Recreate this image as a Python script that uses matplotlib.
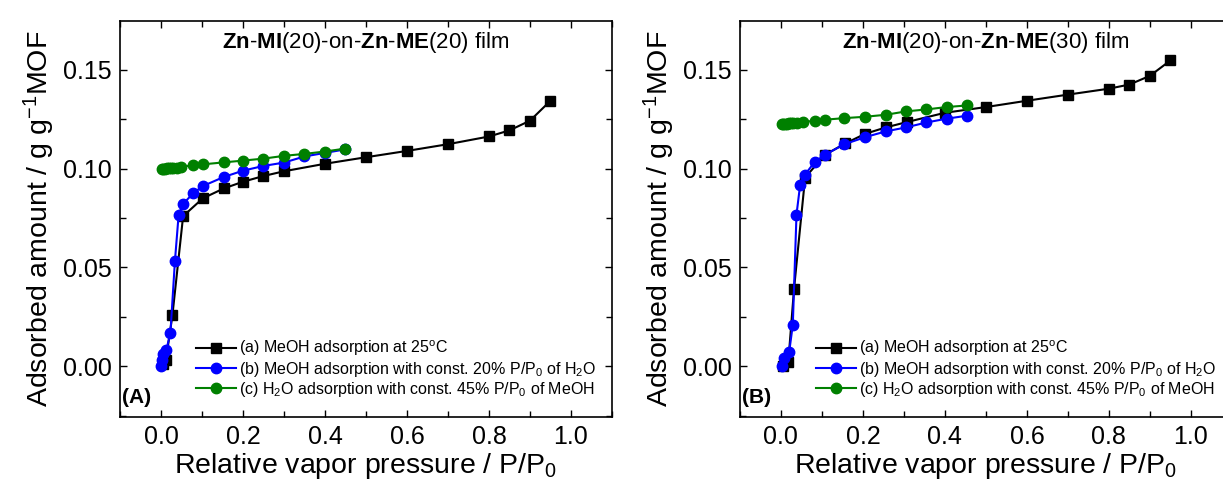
import matplotlib
matplotlib.use("Agg")
import matplotlib.pyplot as plt
from matplotlib.ticker import MultipleLocator

plt.rcParams['font.family'] = ['Liberation Sans', 'DejaVu Sans']
plt.rcParams['mathtext.fontset'] = 'custom'
plt.rcParams['mathtext.rm'] = 'Liberation Sans'
plt.rcParams['mathtext.it'] = 'Liberation Sans:italic'
plt.rcParams['mathtext.bf'] = 'Liberation Sans:bold'

# Panel A: Zn-MI(20)-on-Zn-ME(20)
a_meoh_x = [0.005, 0.012, 0.028, 0.054, 0.102, 0.153, 0.20, 0.25, 0.30, 0.40, 0.50, 0.60, 0.70, 0.80, 0.85, 0.90, 0.95]
a_meoh_y = [0.001, 0.003, 0.026, 0.076, 0.085, 0.090, 0.0934, 0.0963, 0.0987, 0.1025, 0.1058, 0.109, 0.1124, 0.1163, 0.1194, 0.1243, 0.1344]
a_mix_x = [0.001, 0.003, 0.005, 0.013, 0.023, 0.034, 0.043, 0.053, 0.078, 0.102, 0.153, 0.20, 0.25, 0.30, 0.35, 0.40, 0.45]
a_mix_y = [0.0, 0.003, 0.006, 0.0083, 0.0168, 0.0532, 0.0765, 0.0819, 0.0875, 0.0912, 0.0958, 0.099, 0.1014, 0.1031, 0.1062, 0.1080, 0.1098]
a_h2o_x = [0.002, 0.006, 0.010, 0.015, 0.020, 0.025, 0.030, 0.040, 0.050, 0.078, 0.102, 0.153, 0.20, 0.25, 0.30, 0.35, 0.40, 0.45]
a_h2o_y = [0.0999, 0.1000, 0.1001, 0.1002, 0.1003, 0.1004, 0.1005, 0.1006, 0.1008, 0.1019, 0.1022, 0.1032, 0.1041, 0.1051, 0.1065, 0.1075, 0.1087, 0.1102]

# Panel B: Zn-MI(20)-on-Zn-ME(30)
b_meoh_x = [0.005, 0.018, 0.032, 0.059, 0.107, 0.157, 0.206, 0.256, 0.307, 0.40, 0.50, 0.60, 0.70, 0.80, 0.85, 0.90, 0.95]
b_meoh_y = [0.0, 0.0022, 0.0392, 0.0955, 0.107, 0.1128, 0.1177, 0.1209, 0.1236, 0.1283, 0.1312, 0.1344, 0.1375, 0.1405, 0.1426, 0.147, 0.1548]
b_mix_x = [0.003, 0.008, 0.020, 0.029, 0.038, 0.047, 0.058, 0.082, 0.107, 0.155, 0.206, 0.256, 0.305, 0.355, 0.404, 0.453]
b_mix_y = [0.0, 0.0044, 0.007, 0.021, 0.0768, 0.092, 0.0968, 0.1033, 0.107, 0.1124, 0.116, 0.1189, 0.1209, 0.1234, 0.1253, 0.1268]
b_h2o_x = [0.002, 0.006, 0.010, 0.015, 0.020, 0.025, 0.030, 0.040, 0.054, 0.082, 0.107, 0.155, 0.206, 0.256, 0.305, 0.355, 0.404, 0.453]
b_h2o_y = [0.1225, 0.1226, 0.1227, 0.1228, 0.1229, 0.1230, 0.1231, 0.1233, 0.1236, 0.1243, 0.1248, 0.1256, 0.1263, 0.1273, 0.129, 0.130, 0.1312, 0.132]

labels = ["(a) MeOH adsorption at 25$^{\\mathrm{o}}$C",
          "(b) MeOH adsorption with const. 20% P/P$_0$ of H$_2$O",
          "(c) H$_2$O adsorption with const. 45% P/P$_0$ of MeOH"]

panels = [
    ("A", "20", 0.0981, (a_meoh_x, a_meoh_y), (a_mix_x, a_mix_y), (a_h2o_x, a_h2o_y)),
    ("B", "30", 0.6050, (b_meoh_x, b_meoh_y), (b_mix_x, b_mix_y), (b_h2o_x, b_h2o_y)),
]

fig = plt.figure(figsize=(12.23, 4.91), dpi=100)

for tag, me, left, meoh, mix, h2o in panels:
    ax = fig.add_axes([left, 0.151, 0.4023, 0.806])
    l1, = ax.plot(meoh[0], meoh[1], "-s", color="black", lw=1.5, ms=6.5)
    l2, = ax.plot(mix[0], mix[1], "-o", color="#0000ff", lw=1.5, ms=7.5)
    l3, = ax.plot(h2o[0], h2o[1], "-o", color="#008000", lw=1.5, ms=7.5)

    ax.set_xlim(-0.1, 1.1)
    ax.set_ylim(-0.0256, 0.1747)
    ax.xaxis.set_major_locator(MultipleLocator(0.2))
    ax.xaxis.set_minor_locator(MultipleLocator(0.1))
    ax.yaxis.set_major_locator(MultipleLocator(0.05))
    ax.yaxis.set_minor_locator(MultipleLocator(0.025))
    ax.xaxis.set_major_formatter(plt.FormatStrFormatter("%.1f"))
    ax.yaxis.set_major_formatter(plt.FormatStrFormatter("%.2f"))
    ax.tick_params(which="both", direction="in", top=True, right=True, labelsize=18, width=1.0)
    ax.tick_params(which="major", length=5, pad=6)
    ax.tick_params(which="minor", length=4)
    for s in ax.spines.values():
        s.set_linewidth(1.2)

    ax.set_xlabel("Relative vapor pressure / P/P$_0$", fontsize=20.5, labelpad=1)
    ax.set_ylabel("Adsorbed amount / g g$^{-1}$MOF", fontsize=20.5, labelpad=4)

    ax.text(0.5, 0.945, "$\\mathbf{Zn}$-$\\mathbf{MI}$(20)-on-$\\mathbf{Zn}$-$\\mathbf{ME}$(" + me + ") film",
            transform=ax.transAxes, ha="center", va="center", fontsize=16)
    ax.text(0.005, 0.05, "(" + tag + ")", transform=ax.transAxes, ha="left", va="center",
            fontsize=15, fontweight="bold")

    ax.legend([l1, l2, l3], labels, loc="lower left", bbox_to_anchor=(0.155, 0.045),
              frameon=False, fontsize=11.5, handlelength=2.5, handletextpad=0.15,
              labelspacing=0.08, borderpad=0, borderaxespad=0, numpoints=1)

fig.savefig("out.png", dpi=100)
